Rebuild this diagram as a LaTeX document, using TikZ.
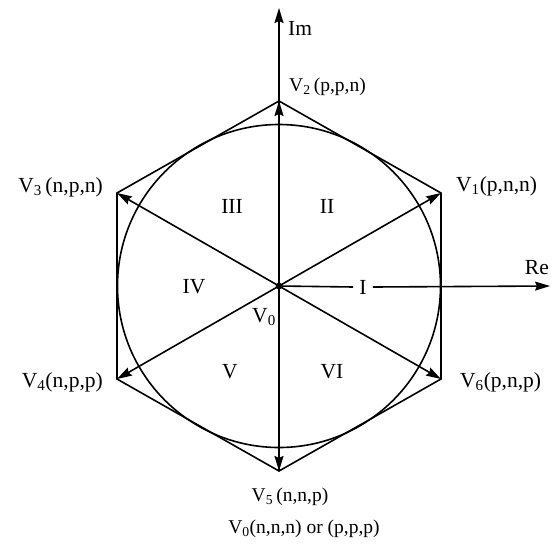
\documentclass[tikz,border=0pt]{standalone}
\usepackage{fontspec}
\setmainfont{Liberation Serif}
\usetikzlibrary{arrows.meta}
\begin{document}
\begin{tikzpicture}[x=1pt,y=-1pt,
  ln/.style={line width=1.6pt},
  vec/.style={ln,-{Stealth[length=15pt,width=9pt,inset=2pt]}},
  lbl/.style={inner sep=0pt,font=\fontsize{19.5}{22}\selectfont},
  big/.style={inner sep=0pt,font=\fontsize{21.5}{24}\selectfont},
  sec/.style={big}]
\useasboundingbox (0,0) rectangle (552,547);
\coordinate (O) at (279,286);
\coordinate (v1) at (441,193);
\coordinate (v2) at (279,101);
\coordinate (v3) at (117,193);
\coordinate (v4) at (117,379);
\coordinate (v5) at (279,471);
\coordinate (v6) at (441,379);
\coordinate (imtop) at (279,8);
\coordinate (retip) at (550,286);
% circle and hexagon
\draw[ln] (O) circle[radius=161.5];
\draw[ln,line join=miter] (v1) -- (v2) -- (v3) -- (v4) -- (v5) -- (v6) -- cycle;
% axes
\draw[vec] (v5) -- (imtop);
\node[sec] (secI) at (363,287) {I};
\draw[ln] (O) -- ([xshift=-6pt]secI.west);
\draw[vec] ([xshift=6pt]secI.east) -- (retip);
% vectors
\foreach \v in {v1,v2,v3,v4,v5,v6} \draw[vec] (O) -- (\v);
\fill (O) circle[radius=3.4];
% labels
\node[big,anchor=west] (im) at (288,28) {Im};
\node[big,anchor=east] (re) at (549,268) {Re};
\node[lbl,anchor=west] (l2) at (289,87) {V\textsubscript{2}\,(p,p,n)};
\node[big,anchor=east] (l3) at (103,187) {V\textsubscript{3}\,(n,p,n)};
\node[big,anchor=west] (l1) at (456,186) {V\textsubscript{1}(p,n,n)};
\node[big,anchor=east] (l4) at (103,382) {V\textsubscript{4}(n,p,p)};
\node[big,anchor=west] (l6) at (460,382) {V\textsubscript{6}(p,n,p)};
\node[lbl] (l5) at (290,497) {V\textsubscript{5}\,(n,n,p)};
\node[lbl] (l0) at (304,529) {V\textsubscript{0}(n,n,n) or (p,p,p)};
\node[sec] (sIII) at (232,206) {III};
\node[sec] (sII) at (327,206) {II};
\node[sec] (sIV) at (194,287) {IV};
\node[sec] (sV0) at (264,317) {V\textsubscript{0}};
\node[sec] (sV) at (230,372) {V};
\node[sec] (sVI) at (332,372) {VI};
\end{tikzpicture}
\end{document}
